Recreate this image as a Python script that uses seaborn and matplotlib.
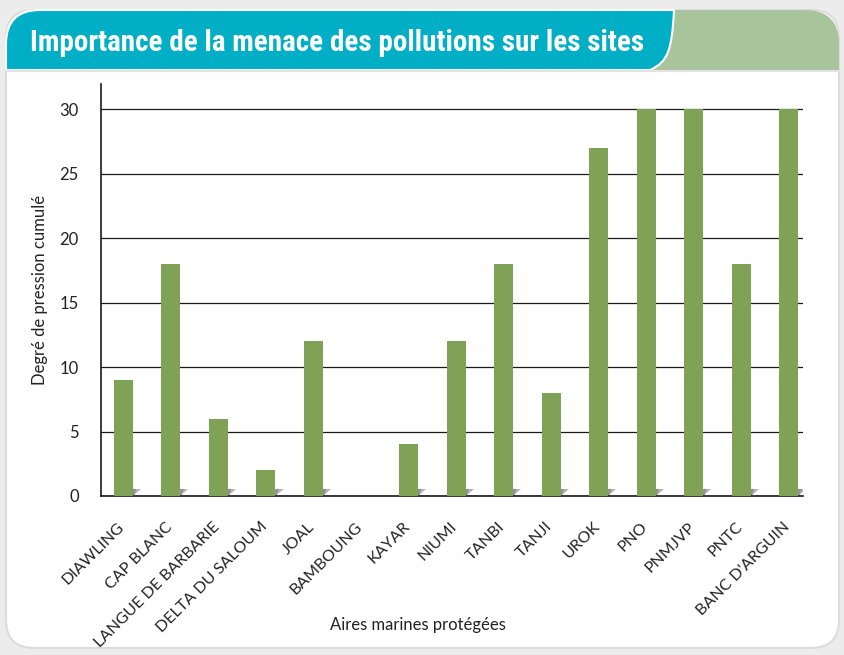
import numpy as np
import pandas as pd
import seaborn as sns
import matplotlib.pyplot as plt
import matplotlib.transforms as mtransforms
from matplotlib.path import Path
from matplotlib.patches import PathPatch, FancyBboxPatch, Polygon

sites = ['DIAWLING', 'CAP BLANC', 'LANGUE DE BARBARIE', 'DELTA DU SALOUM', 'JOAL',
         'BAMBOUNG', 'KAYAR', 'NIUMI', 'TANBI', 'TANJI', 'UROK', 'PNO', 'PNMJVP',
         'PNTC', "BANC D'ARGUIN"]
pression = [9, 18, 6, 2, 12, 0, 4, 12, 18, 8, 27, 30, 30, 18, 30]
yticks = [0, 5, 10, 15, 20, 25, 30]

data = pd.DataFrame({'site': sites, 'pression': pression})

sns.set_style('white')
plt.rcParams['font.family'] = ['Lato', 'DejaVu Sans']

fig = plt.figure(figsize=(8.45, 6.55), dpi=100)
fig.patch.set_facecolor('#ececec')

# decoration layer in pixel coords
bg = fig.add_axes([0, 0, 1, 1], zorder=-1)
bg.set_xlim(0, 845)
bg.set_ylim(655, 0)
bg.axis('off')
bg.add_patch(FancyBboxPatch((6, 10), 833, 638, boxstyle='round,pad=0,rounding_size=28',
                            fc='white', ec='#dcdcdc', lw=1.5))
# green header part
r = 34
verts = [(6, 70), (6, 10 + r), (6, 10), (6 + r, 10), (839 - r, 10), (839, 10), (839, 10 + r),
         (839, 70), (6, 70)]
codes = [Path.MOVETO, Path.LINETO, Path.CURVE3, Path.CURVE3, Path.LINETO, Path.CURVE3,
         Path.CURVE3, Path.LINETO, Path.CLOSEPOLY]
bg.add_patch(PathPatch(Path(verts, codes), fc='#a8c49a', ec='none'))
# teal tab
verts = [(6, 70), (6, 10 + r), (6, 10), (6 + r, 10), (674, 10), (672, 50), (668, 62),
         (650, 70), (6, 70)]
codes = [Path.MOVETO, Path.LINETO, Path.CURVE3, Path.CURVE3, Path.LINETO, Path.CURVE4,
         Path.CURVE4, Path.CURVE4, Path.CLOSEPOLY]
bg.add_patch(PathPatch(Path(verts, codes), fc='#00afc5', ec='white', lw=1.5))
bg.plot([6, 839], [71, 71], color='#e3e3e3', lw=1.5)
bg.text(30, 43, 'Importance de la menace des pollutions sur les sites', color='white',
        fontsize=21, fontweight='bold',
        family=['Roboto Condensed', 'Liberation Sans Narrow', 'Roboto', 'DejaVu Sans'],
        va='center', ha='left')

ax = fig.add_axes([101 / 845, 1 - 496 / 655, 702 / 845, 412 / 655])
sns.barplot(data=data, x='site', y='pression', color='#7fa257', saturation=1,
            width=0.4, linewidth=0, ax=ax, zorder=3)

# small grey floor shadow at bar bases
for p in ax.patches:
    if p.get_height() <= 0:
        continue
    x1 = p.get_x() + p.get_width()
    ax.add_patch(Polygon([(x1, 0), (x1, 0.55), (x1 + 0.17, 0.55)],
                         closed=True, fc='#b4b4b4', ec='none', zorder=2))
    ax.add_patch(Polygon([(x1, 0), (x1, 0.55), (x1 + 0.07, 0.55), (x1 + 0.02, 0)],
                         closed=True, fc='#8f8f8f', ec='none', zorder=2))

ax.set_ylim(0, 31.94)
ax.set_xlim(-0.47, 14.3)
ax.set_yticks(yticks)
ax.yaxis.grid(True, color='#1a1a1a', lw=0.9)
ax.set_axisbelow(True)
for s in ['top', 'right']:
    ax.spines[s].set_visible(False)
for s in ['left', 'bottom']:
    ax.spines[s].set_color('#1a1a1a')
    ax.spines[s].set_linewidth(1.2)
ax.tick_params(axis='y', length=0, labelsize=12, colors='#222222', pad=16)
ax.set_xticks(range(len(sites)))
ax.set_xticklabels(sites, rotation=45, ha='right', rotation_mode='anchor', fontsize=11.5)
ax.tick_params(axis='x', length=0, colors='#222222', pad=17)
shift = mtransforms.ScaledTranslation(-6 / 100, 0, fig.dpi_scale_trans)
for lab in ax.get_xticklabels():
    lab.set_transform(lab.get_transform() + shift)
ax.set_ylabel('Degré de pression cumulé', fontsize=12, color='#222222', labelpad=8)
ax.set_xlabel('Aires marines protégées', fontsize=12, color='#222222')
ax.xaxis.set_label_coords(0.452, -0.294)
ax.set_facecolor('none')

fig.savefig('out.png', dpi=100, facecolor=fig.get_facecolor())
